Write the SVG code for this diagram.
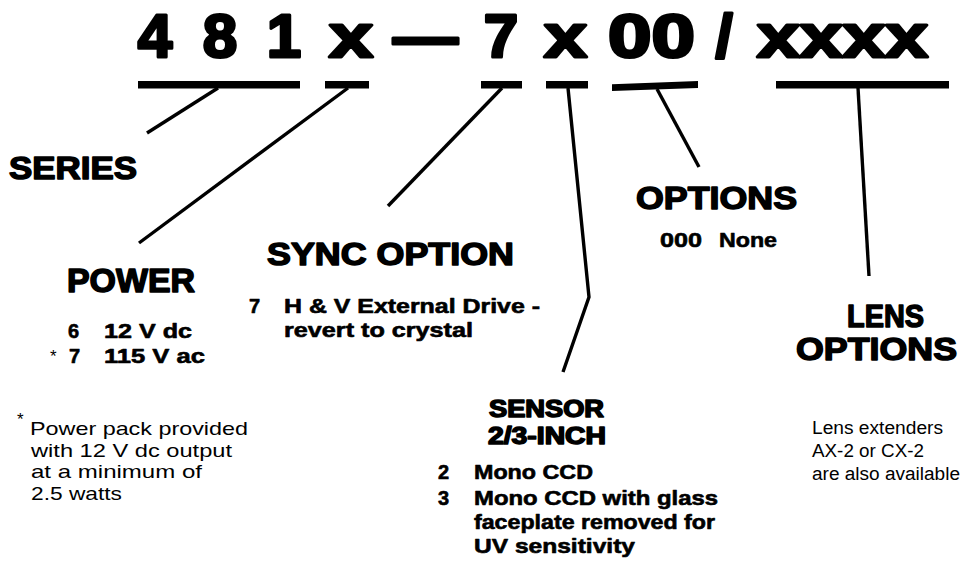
<svg xmlns="http://www.w3.org/2000/svg" width="962" height="563" viewBox="0 0 962 563">
<style>
.big{font-family:"Liberation Sans",Arial,sans-serif;font-weight:bold;font-size:62px;fill:#000;stroke:#000;stroke-width:3;stroke-linejoin:round}
.h{font-family:"Liberation Sans",Arial,sans-serif;font-weight:bold;fill:#000;stroke:#000;stroke-width:1.5;stroke-linejoin:round}
.b{font-family:"Liberation Sans",Arial,sans-serif;font-weight:bold;font-size:20px;fill:#000;stroke:#000;stroke-width:0.6;stroke-linejoin:round}
.n{font-family:"Liberation Sans",Arial,sans-serif;fill:#000}
.bar{fill:#000}
.c{stroke:#000;stroke-width:3.4;fill:none;stroke-linecap:butt}
</style>
<rect width="962" height="563" fill="#fff"/>
<g id="title">
<text class="big" x="155" y="57" text-anchor="middle">4</text>
<text class="big" x="220" y="57" text-anchor="middle">8</text>
<text class="big" x="284" y="57" text-anchor="middle">1</text>
<text class="big" x="329" y="57" textLength="44" lengthAdjust="spacingAndGlyphs">x</text>
<text class="big" x="393" y="57" textLength="65" lengthAdjust="spacingAndGlyphs">—</text>
<text class="big" x="501" y="57" text-anchor="middle">7</text>
<text class="big" x="544" y="57" textLength="43" lengthAdjust="spacingAndGlyphs">x</text>
<text class="big" x="608" y="57" textLength="87" lengthAdjust="spacingAndGlyphs">00</text>
<text class="big" x="724" y="57" text-anchor="middle">/</text>
<text class="big" x="757" y="57" textLength="171" lengthAdjust="spacingAndGlyphs">xxxx</text>
</g>
<g id="bars">
<rect class="bar" x="138" y="81" width="162" height="7.5"/>
<rect class="bar" x="325" y="81" width="44" height="7.5"/>
<rect class="bar" x="481" y="81" width="41" height="7.5"/>
<rect class="bar" x="546" y="81" width="42" height="7.5"/>
<polygon class="bar" points="612,84.3 698,81 698,88 612,91"/>
<rect class="bar" x="776" y="81" width="173" height="7.5"/>
</g>
<g id="connectors">
<line class="c" x1="218" y1="88" x2="147" y2="133"/>
<line class="c" x1="348" y1="88" x2="139" y2="243"/>
<line class="c" x1="502" y1="88" x2="388" y2="206"/>
<polyline class="c" points="568,88 589,297 563,372"/>
<line class="c" x1="657" y1="89" x2="699" y2="167"/>
<line class="c" x1="858" y1="88" x2="869" y2="276"/>
</g>
<g id="series">
<text class="h" x="9" y="179" font-size="32" textLength="128" lengthAdjust="spacingAndGlyphs">SERIES</text>
</g>
<g id="power">
<text class="h" x="67" y="292" font-size="33" textLength="128" lengthAdjust="spacingAndGlyphs">POWER</text>
<text class="b" x="68" y="338">6</text>
<text class="b" x="104" y="338" textLength="88" lengthAdjust="spacingAndGlyphs">12 V dc</text>
<text class="n" x="50" y="362" font-size="17">*</text>
<text class="b" x="69" y="363">7</text>
<text class="b" x="104" y="363" textLength="101" lengthAdjust="spacingAndGlyphs">115 V ac</text>
</g>
<g id="footnote">
<text class="n" x="17" y="425" font-size="17">*</text>
<text class="n" x="30" y="435" font-size="18.5" textLength="218" lengthAdjust="spacingAndGlyphs">Power pack provided</text>
<text class="n" x="31" y="457" font-size="18.5" textLength="201" lengthAdjust="spacingAndGlyphs">with 12 V dc output</text>
<text class="n" x="31" y="478" font-size="18.5" textLength="171" lengthAdjust="spacingAndGlyphs">at a minimum of</text>
<text class="n" x="31" y="500" font-size="18.5" textLength="91" lengthAdjust="spacingAndGlyphs">2.5 watts</text>
</g>
<g id="sync">
<text class="h" x="267" y="265" font-size="31" textLength="247" lengthAdjust="spacingAndGlyphs">SYNC OPTION</text>
<text class="b" x="249" y="313">7</text>
<text class="b" x="284" y="313" textLength="256" lengthAdjust="spacingAndGlyphs">H &amp; V External Drive -</text>
<text class="b" x="284" y="337" textLength="189" lengthAdjust="spacingAndGlyphs">revert to crystal</text>
</g>
<g id="options">
<text class="h" x="636" y="209" font-size="32" textLength="161" lengthAdjust="spacingAndGlyphs">OPTIONS</text>
<text class="b" x="660" y="247" textLength="42" lengthAdjust="spacingAndGlyphs">000</text>
<text class="b" x="719" y="247" textLength="58" lengthAdjust="spacingAndGlyphs">None</text>
</g>
<g id="sensor">
<text class="h" x="489" y="417" font-size="23" textLength="115" lengthAdjust="spacingAndGlyphs">SENSOR</text>
<text class="h" x="488" y="444" font-size="23" textLength="118" lengthAdjust="spacingAndGlyphs">2/3-INCH</text>
<text class="b" x="438" y="479">2</text>
<text class="b" x="474" y="479" textLength="119" lengthAdjust="spacingAndGlyphs">Mono CCD</text>
<text class="b" x="438" y="505">3</text>
<text class="b" x="474" y="505" textLength="244" lengthAdjust="spacingAndGlyphs">Mono CCD with glass</text>
<text class="b" x="474" y="529" textLength="241" lengthAdjust="spacingAndGlyphs">faceplate removed for</text>
<text class="b" x="474" y="553" textLength="161" lengthAdjust="spacingAndGlyphs">UV sensitivity</text>
</g>
<g id="lens">
<text class="h" x="847" y="327" font-size="32" textLength="77" lengthAdjust="spacingAndGlyphs">LENS</text>
<text class="h" x="796" y="360" font-size="32" textLength="161" lengthAdjust="spacingAndGlyphs">OPTIONS</text>
<text class="n" x="812" y="434" font-size="18" textLength="131" lengthAdjust="spacingAndGlyphs">Lens extenders</text>
<text class="n" x="812" y="457" font-size="18" textLength="112" lengthAdjust="spacingAndGlyphs">AX-2 or CX-2</text>
<text class="n" x="812" y="480" font-size="18" textLength="148" lengthAdjust="spacingAndGlyphs">are also available</text>
</g>
</svg>
